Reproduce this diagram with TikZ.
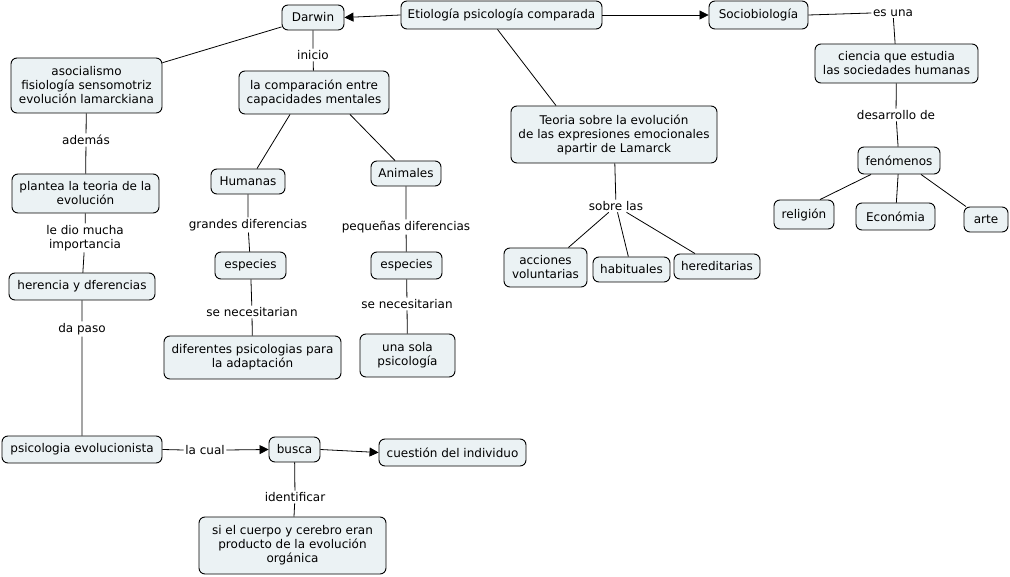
\documentclass[tikz,border=0pt]{standalone}
\usepackage{fontspec}
\setmainfont{DejaVu Sans}
\usetikzlibrary{arrows.meta}
\definecolor{boxfill}{RGB}{235,242,244}
\tikzset{
  box/.style={draw=black, fill=boxfill, rounded corners=6pt, line width=0.9pt, align=center, inner sep=2pt, font=\fontsize{12}{14}\selectfont},
  lbl/.style={inner sep=1.5pt, align=center, font=\fontsize{12}{14}\selectfont},
  conn/.style={draw=black, line width=0.8pt},
  arr/.style={conn, -{Triangle[length=9pt,width=9pt]}}
}
\begin{document}
\begin{tikzpicture}[x=1pt,y=-1pt]
\useasboundingbox[fill=white] (0,0) rectangle (1010,577);
% boxes
\node[box, minimum width=201, minimum height=28] (etio) at (501.5,15) {Etiología psicología comparada};
\node[box, minimum width=62, minimum height=25] (darwin) at (313,17.5) {Darwin};
\node[box, minimum width=99, minimum height=28] (socio) at (758.5,15) {Sociobiología};
\node[box, minimum width=163, minimum height=39] (ciencia) at (896.5,63.5) {ciencia que estudia\\las sociedades humanas};
\node[box, minimum width=82, minimum height=27] (fen) at (899,160.5) {fenómenos};
\node[box, minimum width=60, minimum height=29] (relig) at (804,214.5) {religión};
\node[box, minimum width=79, minimum height=27] (econ) at (895.5,216.5) {Económia};
\node[box, minimum width=44, minimum height=25] (arte) at (986,219.5) {arte};
\node[box, minimum width=206, minimum height=57] (teoria) at (614,134.5) {Teoria sobre la evolución\\de las expresiones emocionales\\apartir de Lamarck};
\node[box, minimum width=83, minimum height=39] (acc) at (545.5,267.5) {acciones\\voluntarias};
\node[box, minimum width=77, minimum height=25] (habit) at (631.5,269.5) {habituales};
\node[box, minimum width=86, minimum height=25] (hered) at (717,266.5) {hereditarias};
\node[box, minimum width=151, minimum height=55] (asoc) at (86.5,85.5) {asocialismo\\fisiología sensomotriz\\evolución lamarckiana};
\node[box, minimum width=150, minimum height=43] (comp) at (314,92.5) {la comparación entre\\capacidades mentales};
\node[box, minimum width=74, minimum height=25] (hum) at (248,181.5) {Humanas};
\node[box, minimum width=70, minimum height=25] (anim) at (406,173.5) {Animales};
\node[box, minimum width=147, minimum height=39] (plantea) at (85.5,193.5) {plantea la teoria de la\\evolución};
\node[box, minimum width=146, minimum height=27] (heren) at (82,286.5) {herencia y dferencias};
\node[box, minimum width=71, minimum height=27] (espL) at (250.5,265.5) {especies};
\node[box, minimum width=71, minimum height=27] (espR) at (406.5,265.5) {especies};
\node[box, minimum width=177, minimum height=43] (difer) at (252.5,357.5) {diferentes psicologias para\\la adaptación};
\node[box, minimum width=95, minimum height=43] (unasola) at (407.5,355.5) {una sola\\psicología};
\node[box, minimum width=160, minimum height=27] (psicev) at (82,449.5) {psicologia evolucionista};
\node[box, minimum width=51, minimum height=25] (busca) at (294.5,449.5) {busca};
\node[box, minimum width=147, minimum height=27] (cuest) at (452.5,452.5) {cuestión del individuo};
\node[box, minimum width=187, minimum height=57] (sicuerpo) at (292.5,545.5) {si el cuerpo y cerebro eran\\producto de la evolución\\orgánica};
% labels
\node[lbl] (inicio) at (313,55) {inicio};
\node[lbl] (esuna) at (893,13) {es una};
\node[lbl] (desarr) at (896,115) {desarrollo de};
\node[lbl] (sobre) at (616,206) {sobre las};
\node[lbl] (ademas) at (86,140) {además};
\node[lbl] (ledio) at (85,238) {le dio mucha\\importancia};
\node[lbl] (grandes) at (248,225) {grandes diferencias};
\node[lbl] (pequenas) at (406,227) {pequeñas diferencias};
\node[lbl] (senecL) at (252,312) {se necesitarian};
\node[lbl] (senecR) at (407,304) {se necesitarian};
\node[lbl] (dapaso) at (82,329) {da paso};
\node[lbl] (lacual) at (205,450) {la cual};
\node[lbl] (ident) at (295,497) {identificar};
% connectors
\draw[arr] (etio.west) -- (darwin.east);
\draw[arr] (etio.east) -- (socio.west);
\draw[conn] ([xshift=-4]etio.south) -- ([xshift=-58]teoria.north);
\draw[conn] (darwin) -- (asoc);
\draw[conn] (darwin) -- (inicio) -- (comp);
\draw[conn] (socio.east) -- (esuna.west);
\draw[conn] (esuna) -- (ciencia);
\draw[conn] (ciencia) -- (desarr) -- (fen);
\draw[conn] ([xshift=-28]fen.south) -- ([xshift=16]relig.north);
\draw[conn] (fen) -- (econ);
\draw[conn] ([xshift=22]fen.south) -- ([xshift=-20]arte.north);
\draw[conn] (teoria) -- (sobre);
\draw[conn] (sobre) -- (acc);
\draw[conn] (sobre) -- (habit);
\draw[conn] (sobre) -- ([xshift=-22]hered.north);
\draw[conn] ([xshift=-24]comp.south) -- ([xshift=9]hum.north);
\draw[conn] ([xshift=36]comp.south) -- ([xshift=-11]anim.north);
\draw[conn] (hum) -- (grandes) -- (espL) -- (senecL) -- (difer);
\draw[conn] (anim) -- (pequenas) -- (espR) -- (senecR) -- (unasola);
\draw[conn] (asoc) -- (ademas) -- (plantea) -- (ledio) -- (heren) -- (dapaso) -- (psicev);
\draw[conn] (psicev.east) -- (lacual.west);
\draw[arr] (lacual.east) -- (busca.west);
\draw[arr] (busca.east) -- (cuest.west);
\draw[conn] (busca) -- (ident) -- (sicuerpo);
\end{tikzpicture}
\end{document}
